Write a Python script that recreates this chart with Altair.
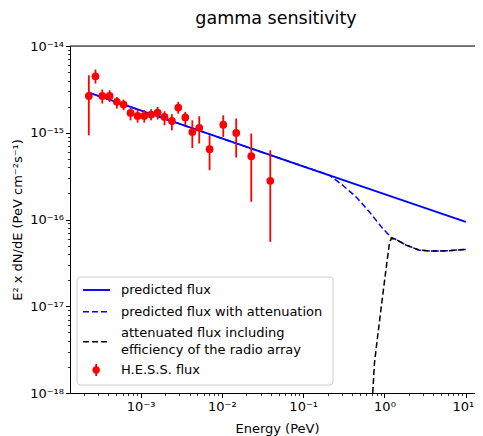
import math
import altair as alt
import pandas as pd

# ---------------- data ----------------
hess_E = [2.31e-4, 2.79e-4, 3.38e-4, 4.16e-4, 5.11e-4, 6.18e-4, 7.53e-4, 9.19e-4,
          1.11e-3, 1.35e-3, 1.62e-3, 1.97e-3, 2.43e-3, 2.91e-3, 3.55e-3, 4.33e-3,
          5.27e-3, 7.06e-3, 1.04e-2, 1.50e-2, 2.30e-2, 3.94e-2]
hess_F = [2.66e-15, 4.48e-15, 2.66e-15, 2.66e-15, 2.27e-15, 2.11e-15, 1.69e-15, 1.56e-15,
          1.56e-15, 1.62e-15, 1.71e-15, 1.52e-15, 1.37e-15, 1.95e-15, 1.50e-15, 1.02e-15,
          1.14e-15, 6.46e-16, 1.24e-15, 9.96e-16, 5.36e-16, 2.79e-16]
hess_lo = [9.35e-16, 3.69e-15, 2.17e-15, 2.27e-15, 1.90e-15, 1.82e-15, 1.39e-15, 1.31e-15,
           1.31e-15, 1.39e-15, 1.42e-15, 1.22e-15, 1.07e-15, 1.66e-15, 1.22e-15, 6.68e-16,
           7.52e-16, 3.70e-16, 8.95e-16, 5.18e-16, 1.60e-16, 5.52e-17]
hess_hi = [4.60e-15, 5.35e-15, 3.15e-15, 3.09e-15, 2.58e-15, 2.41e-15, 1.98e-15, 1.82e-15,
           1.82e-15, 1.87e-15, 1.98e-15, 1.77e-15, 1.63e-15, 2.27e-15, 1.74e-15, 1.39e-15,
           1.55e-15, 9.35e-16, 1.59e-15, 1.46e-15, 9.80e-16, 6.28e-16]

pred_E = [2.31e-4, 1e-3, 1e-2, 1e-1, 1.0, 10.0]
pred_F = [2.90e-15, 1.81e-15, 8.60e-16, 4.10e-16, 1.96e-16, 9.40e-17]

att_E = [2.31e-4, 1e-3, 1e-2, 1e-1, 0.211, 0.307, 0.449, 0.654, 0.953, 1.21, 1.39,
         1.85, 2.69, 3.93, 5.74, 10.0]
att_F = [2.90e-15, 1.81e-15, 8.60e-16, 4.10e-16, 3.24e-16, 2.48e-16, 1.82e-16, 1.22e-16,
         7.87e-17, 6.21e-17, 5.89e-17, 5.06e-17, 4.43e-17, 4.32e-17, 4.35e-17, 4.52e-17]

eff_E = [0.717, 0.753, 0.813, 0.893, 0.980, 1.08, 1.15, 1.21, 1.39, 1.85, 2.69,
         3.93, 5.74, 10.0]
eff_F = [1.0e-18, 2.19e-18, 4.06e-18, 8.26e-18, 1.67e-17, 3.40e-17, 5.29e-17, 6.04e-17,
         5.89e-17, 5.06e-17, 4.43e-17, 4.32e-17, 4.35e-17, 4.52e-17]

x_major = [1e-3, 1e-2, 1e-1, 1.0, 10.0]
y_major = [1e-18, 1e-17, 1e-16, 1e-15, 1e-14]

legend_labels = ["predicted flux", "predicted flux with attenuation",
                 "attenuated flux including", "efficiency of the radio array",
                 "H.E.S.S. flux"]

title_text = "gamma sensitivity"
x_title = "Energy (PeV)"
y_title = "E² x dN/dE  (PeV cm⁻²s⁻¹)"

# ---------------- layout / style ----------------
W, H = 405, 347
PX_PER_DEC = 81.3
X_MIN = 10 ** -3.868
X_MAX = 10 ** (-3.868 + W / PX_PER_DEC)
Y_MIN, Y_MAX = 1e-18, 1e-14
PAD = {"left": 62, "top": 38, "right": 0, "bottom": 43}
FONT = "DejaVu Sans"
BLUE, RED, BLACK = "#0000ff", "#ff0000", "#000000"


def minors(lo_exp, hi_exp, vmin, vmax):
    out = []
    for k in range(lo_exp, hi_exp + 1):
        for m in range(2, 10):
            v = m * 10.0 ** k
            if vmin <= v <= vmax:
                out.append(v)
    return out


x_ticks = sorted(x_major + minors(-4, 1, X_MIN, X_MAX))
y_ticks = sorted(y_major + minors(-18, -15, Y_MIN, Y_MAX))

DEC = "abs(log(datum.value)/LN10 - round(log(datum.value)/LN10)) < 1e-6"
EXP = "round(log(datum.value)/LN10)"
SUP = str.maketrans("-0123456789", "⁻⁰¹²³⁴⁵⁶⁷⁸⁹")


def label_expr(majors):
    expr = "''"
    for v in majors:
        e = round(math.log10(v))
        expr = f"({EXP} == {e} ? '10{str(e).translate(SUP)}' : {expr})"
    return f"{DEC} ? {expr} : ''"


def make_axis(ticks, majors, **kw):
    return alt.Axis(
        values=ticks, labelExpr=label_expr(majors), grid=False,
        domain=True, domainColor=BLACK, domainWidth=1,
        ticks=True, tickColor=BLACK,
        tickSize={"condition": {"test": DEC, "value": 4.5}, "value": 2.6},
        tickWidth={"condition": {"test": DEC, "value": 1}, "value": 0.8},
        labelFont=FONT, labelFontSize=13, labelColor=BLACK,
        labelOverlap=False, labelFlush=False,
        titleFont=FONT, titleFontSize=13, titleFontWeight="normal", titleColor=BLACK,
        **kw)


x_axis = make_axis(x_ticks, x_major, orient="bottom", labelPadding=3,
                   labelAlign={"condition": {"test": "datum.value > 5", "value": "right"},
                               "value": "center"},
                   labelOffset={"condition": {"test": "datum.value > 5", "value": 8},
                                "value": 0},
                   titleX=207, titleY=39, titleAlign="center", titleBaseline="alphabetic")
y_axis = make_axis(y_ticks, y_major, orient="left", labelPadding=2,
                   titleX=-49, titleY=H / 2, titleAngle=270, titleAlign="center",
                   titleBaseline="alphabetic")

xs = alt.Scale(type="log", domain=[X_MIN, X_MAX], nice=False)
ys = alt.Scale(type="log", domain=[Y_MIN, Y_MAX], nice=False)


def X(f):
    return alt.X(f"{f}:Q", scale=xs, axis=x_axis, title=x_title)


def Y(f):
    return alt.Y(f"{f}:Q", scale=ys, axis=y_axis, title=y_title)


pred_df = pd.DataFrame({"E": pred_E, "F": pred_F})
att_df = pd.DataFrame({"E": att_E, "F": att_F})
eff_df = pd.DataFrame({"E": eff_E, "F": eff_F})
hess_df = pd.DataFrame({"E": hess_E, "F": hess_F, "lo": hess_lo, "hi": hess_hi})

pred = alt.Chart(pred_df).mark_line(color=BLUE, strokeWidth=1.9, clip=True).encode(x=X("E"), y=Y("F"))
att = alt.Chart(att_df).mark_line(color=BLUE, strokeWidth=1.5, strokeDash=[6, 3], clip=True).encode(x=X("E"), y=Y("F"))
eff = alt.Chart(eff_df).mark_line(color=BLACK, strokeWidth=1.5, strokeDash=[6, 3], clip=True).encode(x=X("E"), y=Y("F"))
errs = alt.Chart(hess_df).mark_rule(color=RED, strokeWidth=1.8, clip=True).encode(
    x=X("E"), y=Y("lo"), y2="hi:Q")
pts = alt.Chart(hess_df).mark_circle(color=RED, size=60, opacity=1, clip=True).encode(x=X("E"), y=Y("F"))

top_spine = alt.Chart().mark_rule(color=BLACK, strokeWidth=1).encode(
    x=alt.value(0), x2=alt.value(W + 2), y=alt.value(0))

title = alt.Chart().mark_text(text=title_text, align="center", baseline="alphabetic",
                              font=FONT, fontSize=17.5, color=BLACK).encode(
    x=alt.value(206), y=alt.value(-22))

# ---------------- legend (drawn by hand, matplotlib style) ----------------
LX0, LX1, LY0, LY1 = 7, 263, 231, 339
legend_box = alt.Chart().mark_rect(fill="white", fillOpacity=0.8, stroke="#cccccc",
                                   strokeWidth=1, cornerRadius=3).encode(
    x=alt.value(LX0), x2=alt.value(LX1), y=alt.value(LY0), y2=alt.value(LY1))

row_y = [244, 265.7, 295.7, 324]
text_y = [244, 265.7, 287.3, 304, 324]
sx0, sx1, tx = 13, 40, 51

leg_layers = [legend_box]
leg_layers.append(alt.Chart().mark_rule(color=BLUE, strokeWidth=1.9).encode(
    x=alt.value(sx0), x2=alt.value(sx1), y=alt.value(row_y[0])))
leg_layers.append(alt.Chart().mark_rule(color=BLUE, strokeWidth=1.5, strokeDash=[6, 3]).encode(
    x=alt.value(sx0), x2=alt.value(sx1), y=alt.value(row_y[1])))
leg_layers.append(alt.Chart().mark_rule(color=BLACK, strokeWidth=1.5, strokeDash=[6, 3]).encode(
    x=alt.value(sx0), x2=alt.value(sx1), y=alt.value(row_y[2])))
leg_layers.append(alt.Chart().mark_rule(color=RED, strokeWidth=1.8).encode(
    x=alt.value((sx0 + sx1) / 2 - 0.3), y=alt.value(row_y[3] - 6), y2=alt.value(row_y[3] + 6)))
leg_layers.append(alt.Chart().mark_circle(color=RED, size=55, opacity=1).encode(
    x=alt.value((sx0 + sx1) / 2 - 0.3), y=alt.value(row_y[3])))
for lab, ty in zip(legend_labels, text_y):
    leg_layers.append(alt.Chart().mark_text(text=lab, align="left", baseline="middle",
                                            font=FONT, fontSize=13, color=BLACK).encode(
        x=alt.value(tx), y=alt.value(ty)))

chart = alt.layer(
    top_spine, pred, att, eff, errs, pts, *leg_layers, title
).properties(
    width=W, height=H,
    autosize=alt.AutoSizeParams(type="none"),
    padding=PAD,
).configure_view(strokeWidth=0).configure(background="white")

chart.save("out.html", embed_options={"renderer": "svg", "actions": False})
